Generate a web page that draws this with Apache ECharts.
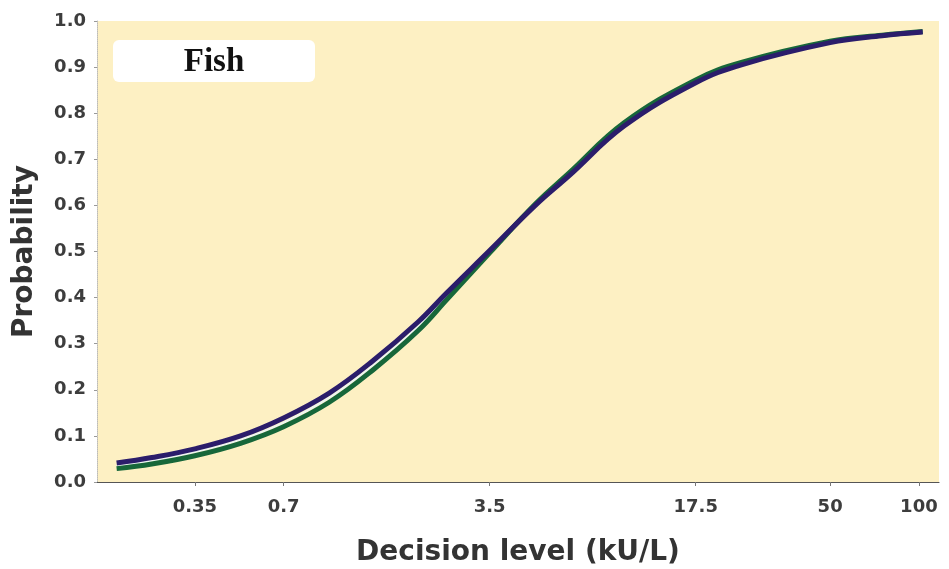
<!DOCTYPE html>
<html>
<head>
<meta charset="utf-8">
<script src="https://cdn.jsdelivr.net/npm/echarts@6/dist/echarts.min.js"></script>
<style>
  html, body { margin: 0; padding: 0; background: #ffffff; }
  #chart { width: 949px; height: 569px; }
</style>
</head>
<body>
<div id="chart"></div>
<script>
// Decision level (kU/L) sample points
const decisionLevels = [0.19, 0.25, 0.35, 0.5, 0.7, 1.0, 1.4, 2.0, 2.5, 3.5, 5.0, 6.5, 10, 17.5, 25, 50, 75, 103];
// Probability curves
const navyCurve  = [0.041, 0.053, 0.072, 0.100, 0.139, 0.193, 0.262, 0.347, 0.410, 0.502, 0.600, 0.664, 0.772, 0.866, 0.905, 0.953, 0.968, 0.976];
const whiteCurve = [0.035, 0.046, 0.065, 0.092, 0.129, 0.183, 0.252, 0.337, 0.402, 0.499, 0.601, 0.667, 0.775, 0.869, 0.907, 0.954, 0.968, 0.976];
const greenCurve = [0.029, 0.039, 0.057, 0.084, 0.120, 0.173, 0.242, 0.328, 0.395, 0.497, 0.603, 0.670, 0.779, 0.872, 0.910, 0.956, 0.969, 0.977];
// Tick labels
const xTickValues = [0.35, 0.7, 3.5, 17.5, 50, 100];
const yTickValues = [0, 0.1, 0.2, 0.3, 0.4, 0.5, 0.6, 0.7, 0.8, 0.9, 1.0];
const panelLabel = 'Fish';
const xTitle = 'Decision level (kU/L)';
const yTitle = 'Probability';

function pairs(ys) { return decisionLevels.map((x, i) => [x, ys[i]]); }

const chart = echarts.init(document.getElementById('chart'), null, { renderer: 'canvas' });
chart.setOption({
  backgroundColor: '#ffffff',
  animation: false,
  grid: {
    left: 97, right: 10, top: 21, bottom: 87,
    outerBoundsMode: 'none', containLabel: false,
    show: true, backgroundColor: '#fdf0c3', borderWidth: 0
  },
  xAxis: {
    type: 'log', logBase: 10, min: 0.163, max: 117,
    name: xTitle, nameLocation: 'middle', nameGap: 57,
    nameTextStyle: { fontFamily: 'DejaVu Sans', fontWeight: 'bold', fontSize: 28, color: '#333333' },
    axisLine: { show: true, lineStyle: { color: '#555555', width: 1.2 } },
    axisTick: { show: true, length: 4, customValues: xTickValues, lineStyle: { color: '#777777' } },
    minorTick: { show: false },
    splitLine: { show: false },
    axisLabel: {
      customValues: xTickValues, margin: 16,
      fontFamily: 'DejaVu Sans', fontWeight: 'bold', fontSize: 18, color: '#3d3d3d',
      formatter: v => String(v)
    }
  },
  yAxis: {
    type: 'value', min: 0, max: 1, interval: 0.1,
    name: yTitle, nameLocation: 'middle', nameGap: 58,
    nameTextStyle: { fontFamily: 'DejaVu Sans', fontWeight: 'bold', fontSize: 28, color: '#333333' },
    axisLine: { show: true, lineStyle: { color: '#bbbbbb', width: 1, type: 'dotted' } },
    axisTick: { show: true, length: 3, lineStyle: { color: '#999999' } },
    splitLine: { show: false },
    axisLabel: {
      margin: 11,
      fontFamily: 'DejaVu Sans', fontWeight: 'bold', fontSize: 18, color: '#3d3d3d',
      formatter: v => (yTickValues.includes(Math.round(v * 10) / 10) ? v.toFixed(1) : '')
    }
  },
  graphic: [{
    type: 'group', left: 113, top: 40,
    children: [
      { type: 'rect', shape: { x: 0, y: 0, width: 202, height: 42, r: 6 },
        style: { fill: '#ffffff' } },
      { type: 'text', x: 101, y: 22,
        style: { text: panelLabel, fontFamily: 'Liberation Serif', fontWeight: 'bold', fontSize: 33,
                 fill: '#111111', align: 'center', verticalAlign: 'middle' } }
    ]
  }],
  series: [
    { type: 'line', data: pairs(whiteCurve), smooth: 0.4, showSymbol: false, z: 2,
      lineStyle: { color: '#eef6f2', width: 2 } },
    { type: 'line', data: pairs(greenCurve), smooth: 0.4, showSymbol: false, z: 3,
      lineStyle: { color: '#17673a', width: 5 } },
    { type: 'line', data: pairs(navyCurve), smooth: 0.4, showSymbol: false, z: 4,
      lineStyle: { color: '#2b1d6b', width: 5 } }
  ]
});
</script>
</body>
</html>
